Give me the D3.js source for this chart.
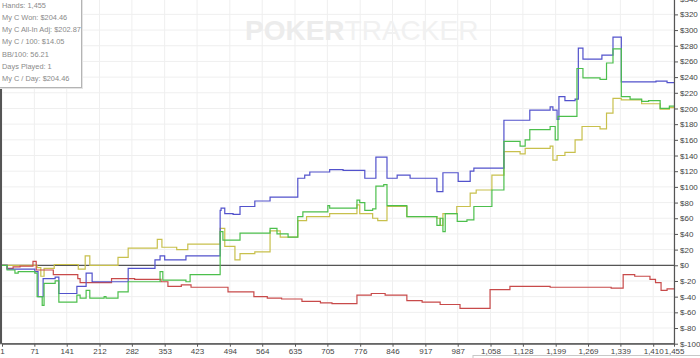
<!DOCTYPE html>
<html>
<head>
<meta charset="utf-8">
<script src="https://cdn.jsdelivr.net/npm/d3@7"></script>
<style>
  body { margin: 0; background: #fff; }
  svg { display: block; }
  .axis text { font-family: "Liberation Sans", Arial, sans-serif; font-size: 8px; fill: #444; }
  .axis path, .axis line { stroke: #555; }
</style>
</head>
<body>
<svg id="chart" width="700" height="358"></svg>
<script>
// hands axis labels and dollar ticks
const handTicks = [1, 71, 141, 212, 282, 353, 423, 494, 564, 635, 705, 776, 846, 917, 987, 1058, 1128, 1199, 1269, 1339, 1410, 1455];
const dollarTicks = d3.range(-100, 341, 20);

const statLines = [
    "Hands: 1,455",
    "My C Won: $204.46",
    "My C All-In Adj: $202.87",
    "My C / 100: $14.05",
    "BB/100: 56.21",
    "Days Played: 1",
    "My C / Day: $204.46"
];

// [hand, $] step points
const blueSeries = [[1,0],[12,-5],[72,-8],[79,-40],[90,-17],[116,-15],[124,-36],[163,-27],[183,-10],[196,-21],[274,-4],[332,7],[343,12],[353,7],[399,12],[473,70],[475,73],[483,66],[501,65],[516,75],[548,82],[581,87],[641,111],[656,115],[667,119],[710,122],[739,121],[786,111],[810,138],[834,111],[856,115],[884,111],[942,94],[955,118],[988,107],[1014,120],[1022,124],[1087,185],[1143,198],[1187,202],[1193,198],[1202,186],[1206,215],[1219,210],[1241,212],[1248,277],[1258,263],[1299,268],[1323,291],[1341,234],[1416,235],[1440,233],[1455,233]];

const greenSeries = [[1,0],[12,-6],[29,-10],[36,-8],[72,-10],[77,-40],[88,-51],[92,-23],[116,-20],[124,-47],[163,-38],[170,-42],[183,-32],[191,-42],[222,-40],[226,-42],[252,-34],[274,-21],[343,-8],[349,-19],[399,-21],[408,-12],[473,43],[479,32],[516,41],[581,47],[596,40],[620,36],[641,62],[652,68],[706,76],[710,73],[769,83],[775,80],[786,70],[803,72],[810,101],[827,103],[834,76],[877,62],[942,51],[949,60],[955,43],[960,66],[986,56],[1007,58],[1022,75],[1061,96],[1087,158],[1122,152],[1133,160],[1143,173],[1187,177],[1198,160],[1204,190],[1245,251],[1258,239],[1295,237],[1309,258],[1323,276],[1341,215],[1360,212],[1385,209],[1400,210],[1425,200],[1445,203],[1455,203]];

const yellowSeries = [[1,0],[77,-3],[85,-14],[92,-4],[114,1],[166,-5],[181,12],[191,0],[252,10],[274,22],[337,33],[347,23],[379,20],[403,27],[473,47],[483,24],[505,7],[516,15],[548,17],[581,44],[603,36],[641,57],[660,62],[710,66],[769,77],[775,66],[803,60],[814,57],[834,75],[877,62],[942,60],[949,51],[955,66],[985,75],[1014,92],[1027,96],[1061,115],[1087,145],[1122,142],[1133,149],[1187,152],[1193,134],[1202,140],[1219,144],[1241,160],[1256,177],[1295,174],[1309,194],[1323,213],[1341,211],[1385,206],[1425,199],[1445,201],[1455,201]];

const redSeries = [[1,0],[12,-4],[25,-2],[40,-1],[68,5],[75,-6],[112,-12],[165,-17],[170,-22],[238,-17],[288,-18],[345,-21],[360,-27],[389,-25],[410,-28],[490,-34],[546,-40],[575,-42],[606,-43],[650,-46],[690,-48],[715,-49],[769,-38],[800,-36],[830,-38],[877,-45],[910,-47],[949,-50],[992,-55],[1057,-31],[1100,-27],[1187,-28],[1319,-29],[1345,-12],[1370,-14],[1403,-18],[1415,-22],[1427,-32],[1440,-30],[1455,-30]];

const seriesList = [
    { data: yellowSeries, color: "#c8c04c" },
    { data: redSeries, color: "#c84a4a" },
    { data: blueSeries, color: "#5252cc" },
    { data: greenSeries, color: "#4cbf4c" }
];

const svg = d3.select("#chart");
const plotLeft = 2, plotRight = 674, plotTop = -1.3, plotBottom = 343.7;

const x = d3.scaleLinear().domain([1, 1455]).range([plotLeft, plotRight]);
const y = d3.scaleLinear().domain([-100, 340]).range([plotBottom, plotTop]);

svg.append("rect").attr("width", 700).attr("height", 358).attr("fill", "#fff");

// grid
svg.append("g").selectAll("line").data(dollarTicks).enter().append("line")
    .attr("x1", 0).attr("x2", plotRight)
    .attr("y1", d => y(d)).attr("y2", d => y(d))
    .attr("stroke", "#efefef");
svg.append("g").selectAll("line").data(handTicks).enter().append("line")
    .attr("x1", d => x(d)).attr("x2", d => x(d))
    .attr("y1", 0).attr("y2", plotBottom)
    .attr("stroke", "#efefef");

// watermark
const wm = svg.append("text").attr("x", 245).attr("y", 40)
    .attr("font-family", "Liberation Sans, Arial, sans-serif").attr("font-size", 28);
wm.append("tspan").attr("font-weight", "bold").attr("fill", "#ececec").text("POKER");
wm.append("tspan").attr("fill", "#f1f1f1").text("TRACKER");

// zero line
svg.append("line").attr("x1", 0).attr("x2", plotRight)
    .attr("y1", y(0)).attr("y2", y(0))
    .attr("stroke", "#555").attr("stroke-width", 1.3);

// lines
const line = d3.line().x(d => x(d[0])).y(d => y(d[1])).curve(d3.curveStepAfter);
seriesList.forEach(s => {
    svg.append("path").datum(s.data)
        .attr("d", line)
        .attr("fill", "none")
        .attr("stroke", s.color)
        .attr("stroke-width", 1.2);
});

// axes
svg.append("g").attr("class", "axis")
    .attr("transform", `translate(${plotRight},0)`)
    .call(d3.axisRight(y).tickValues(dollarTicks).tickFormat(d => "$" + d).tickSize(4).tickSizeOuter(0).tickPadding(2));
svg.append("g").attr("class", "axis")
    .attr("transform", `translate(0,${plotBottom})`)
    .call(d3.axisBottom(x).tickValues(handTicks).tickFormat(d3.format(",")).tickSize(3).tickSizeOuter(0).tickPadding(1.5));
svg.select(".axis path").attr("stroke-width", 1.2);
svg.append("line").attr("x1", 1).attr("x2", 1).attr("y1", 0).attr("y2", plotBottom)
    .attr("stroke", "#555").attr("stroke-width", 2);
svg.append("line").attr("x1", 0).attr("x2", plotRight).attr("y1", plotBottom).attr("y2", plotBottom)
    .attr("stroke", "#666").attr("stroke-width", 1.2);

// stats box
svg.append("rect").attr("x", -1).attr("y", -1).attr("width", 84).attr("height", 90)
    .attr("fill", "#e4e4e4");
svg.append("rect").attr("x", -1).attr("y", -1).attr("width", 82.5).attr("height", 88.5)
    .attr("fill", "#fff").attr("stroke", "#b4b4b4");
svg.append("g").selectAll("text").data(statLines).enter().append("text")
    .attr("x", 2).attr("y", (d, i) => 7.5 + i * 12.3)
    .attr("font-family", "Liberation Sans, Arial, sans-serif")
    .attr("font-size", 7.4).attr("fill", "#8a8a8a")
    .text(d => d);

// partially hidden box at bottom
svg.append("rect").attr("x", 473).attr("y", 355.5).attr("width", 240).attr("height", 10)
    .attr("fill", "#fff").attr("stroke", "#c8c8c8");
</script>
</body>
</html>
